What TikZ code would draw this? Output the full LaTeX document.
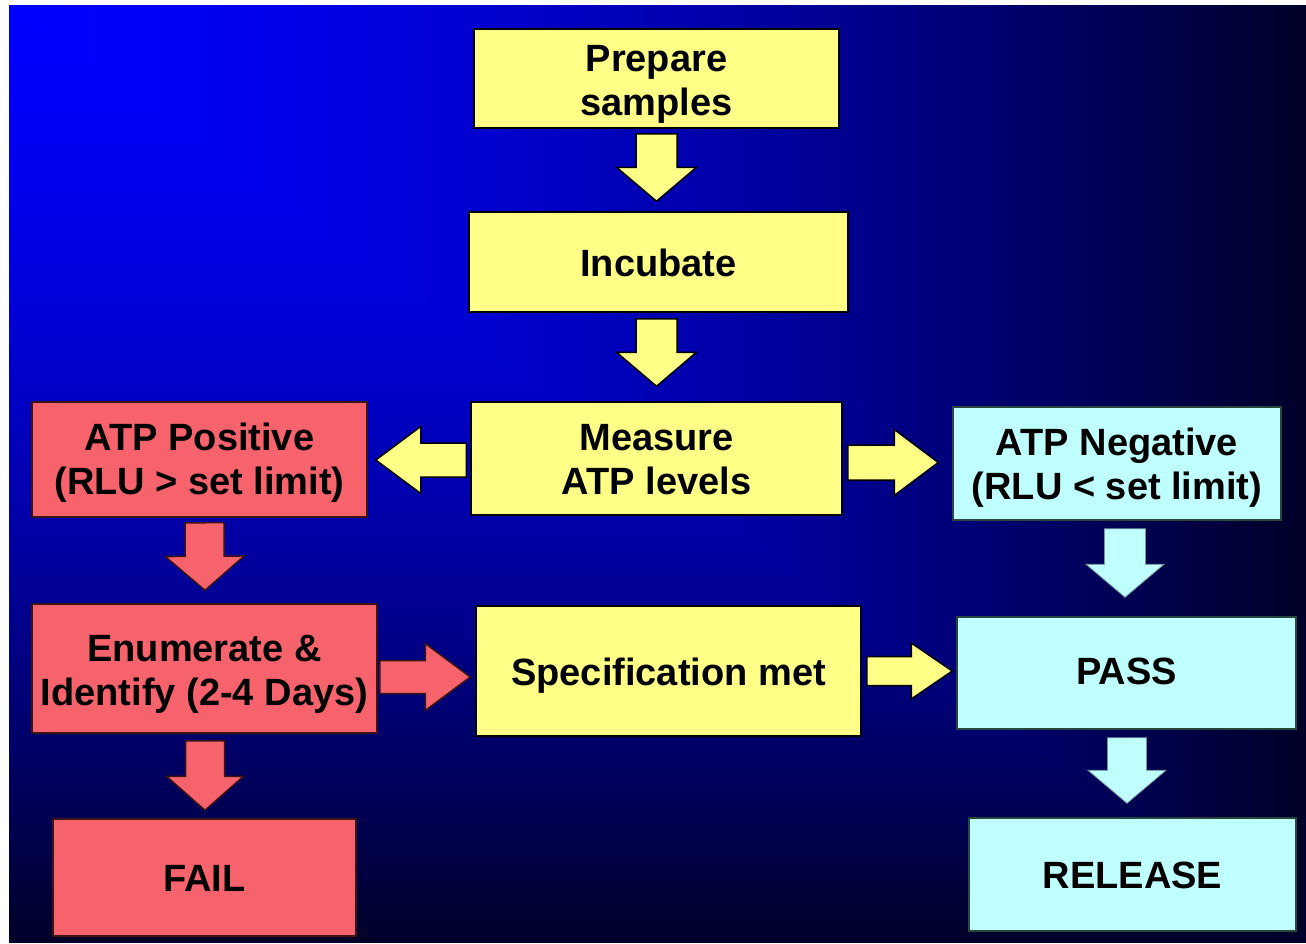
\documentclass[tikz,border=0pt]{standalone}
\usepackage{fontspec}
\setmainfont{Liberation Sans}
\usetikzlibrary{calc}
\definecolor{boxyellow}{RGB}{255,255,136}
\definecolor{boxred}{RGB}{247,99,108}
\definecolor{boxcyan}{RGB}{192,255,255}
\definecolor{cyanline}{RGB}{40,70,60}
\definecolor{redline}{RGB}{60,20,20}
% #1 style, #2 start, #3 tip, #4 shaft half width, #5 head half width, #6 head length
\newcommand\blockarrow[6]{%
  \path #2 coordinate (ba-s);
  \path #3 coordinate (ba-t);
  \path ($(ba-t)!#6!(ba-s)$) coordinate (ba-b);
  \draw[#1] ($(ba-s)!#4!90:(ba-t)$) -- ($(ba-b)!#4!-90:(ba-s)$) -- ($(ba-b)!#5!-90:(ba-s)$) -- (ba-t) -- ($(ba-b)!#5!90:(ba-s)$) -- ($(ba-b)!#4!90:(ba-s)$) -- ($(ba-s)!#4!-90:(ba-t)$) -- cycle;
}
\tikzset{
  box/.style={draw=black, line width=1.5pt, inner sep=0pt},
  boxtext/.style={inner sep=0pt, align=center, font=\fontsize{38}{44}\selectfont\bfseries},
  txt/.style args={#1/#2}{label={[boxtext, yshift=#1]center:{#2}}},
  ybox/.style={box, fill=boxyellow},
  rbox/.style={box, fill=boxred, draw=redline},
  cbox/.style={box, fill=boxcyan, draw=cyanline},
  yarrow/.style={fill=boxyellow, draw=black, line width=1.5pt, line join=miter},
  rarrow/.style={fill=boxred, draw=redline, line width=1.5pt, line join=miter},
  carrow/.style={fill=boxcyan, draw=boxcyan!60!black, line width=0.8pt, line join=miter},
}
\begin{document}
\begin{tikzpicture}[x=1pt, y=-1pt]
\useasboundingbox (0,0) rectangle (1306,943);
\fill[white] (0,0) rectangle (1306,943);
% background "from corner" gradient
\foreach \i in {120,119,...,1}{
  \pgfmathsetmacro\t{(\i-0.5)/120}
  \pgfmathtruncatemacro\b{255-215*\t*sqrt(\t)}
  \pgfmathsetmacro\xe{9+10.8083*\i}
  \pgfmathsetmacro\ye{5+7.8167*\i}
  \definecolor{bgc}{RGB}{0,0,\b}
  \fill[bgc] (9,5) rectangle (\xe,\ye);
}
% boxes
\node[ybox, minimum width=365pt, minimum height=99pt, txt={-6pt/Prepare\\samples}] (prep) at (656.5,78.5) {};
\node[ybox, minimum width=379pt, minimum height=100pt, txt={-1pt/Incubate}] (incub) at (658.5,262) {};
\node[ybox, minimum width=371pt, minimum height=113pt, txt={-1.5pt/Measure\\ATP levels}] (meas) at (656.5,458.5) {};
\node[rbox, minimum width=335pt, minimum height=115pt, txt={-3.5pt/ATP Positive\\(RLU > set limit)}] (pos) at (199.5,459.5) {};
\node[cbox, minimum width=328pt, minimum height=113pt, txt={-4pt/ATP Negative\\(RLU < set limit)}] (neg) at (1117,463.5) {};
\node[rbox, minimum width=345pt, minimum height=129pt, txt={-6pt/Enumerate \&\\Identify (2-4 Days)}] (enum) at (204.5,668.5) {};
\node[ybox, minimum width=385pt, minimum height=130pt, txt={-4.5pt/Specification met}] (spec) at (668.5,671) {};
\node[cbox, minimum width=339pt, minimum height=112pt, txt={1.5pt/PASS}] (pass) at (1126.5,673) {};
\node[cbox, minimum width=327pt, minimum height=113pt, txt={-1pt/RELEASE}] (rel) at (1132.5,874.5) {};
\node[rbox, minimum width=303pt, minimum height=117pt, txt={-1pt/FAIL}] (fail) at (204.5,877.5) {};
% block arrows
\blockarrow{yarrow}{($(prep.south)+(0,5)$)}{($(prep.south|-incub.north)+(0,-10)$)}{20.5pt}{40pt}{34pt}
\blockarrow{yarrow}{($(meas.north|-incub.south)+(0,6)$)}{($(meas.north)+(0,-15)$)}{20.5pt}{40pt}{34pt}
\blockarrow{yarrow}{($(meas.west)+(-4,1.5)$)}{($(pos.east)+(8,0.5)$)}{17pt}{33.5pt}{45pt}
\blockarrow{yarrow}{($(meas.east)+(5,4)$)}{($(neg.west)+(-14,-1)$)}{17.5pt}{33pt}{44pt}
\blockarrow{rarrow}{($(pos.south)+(5,5)$)}{($(enum.north)+(0.5,-13)$)}{19.5pt}{39.5pt}{34pt}
\blockarrow{rarrow}{($(enum.east)+(2,8.5)$)}{($(spec.west)+(-5,6)$)}{16.5pt}{33.5pt}{45pt}
\blockarrow{yarrow}{($(spec.east)+(5,0)$)}{($(pass.west)+(-4,-2)$)}{14.5pt}{28pt}{41pt}
\blockarrow{carrow}{($(neg.south)+(8,8)$)}{($(pass.north)+(-1.5,-19)$)}{20.5pt}{39pt}{33pt}
\blockarrow{carrow}{($(pass.south)+(0.5,8)$)}{($(rel.north)+(-5.5,-14)$)}{19.5pt}{39pt}{33pt}
\blockarrow{rarrow}{($(enum.south)+(0.5,7)$)}{($(fail.north)+(0.5,-8)$)}{19.5pt}{38.5pt}{34pt}
\end{tikzpicture}
\end{document}
